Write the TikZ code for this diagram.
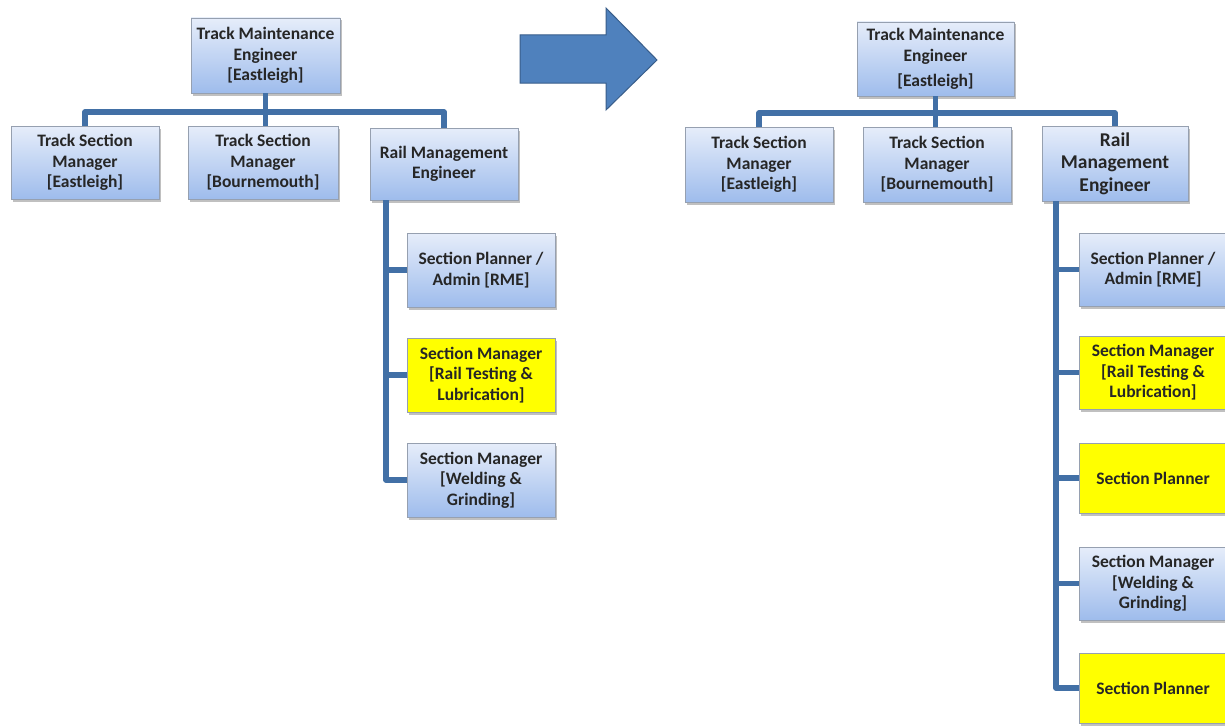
\documentclass[tikz,border=0pt]{standalone}
\usepackage{fontspec}
\setmainfont{Carlito}
\usetikzlibrary{shadows}
\definecolor{conncol}{RGB}{66,112,166}
\definecolor{boxtop}{RGB}{230,237,250}
\definecolor{boxbot}{RGB}{158,188,236}
\definecolor{boxline}{RGB}{150,160,176}
\definecolor{textcol}{RGB}{38,38,38}
\definecolor{arrfill}{RGB}{79,129,189}
\definecolor{arrline}{RGB}{56,93,138}
\definecolor{yelfill}{RGB}{255,255,0}
\tikzset{
  basebox/.style={draw=boxline, line width=0.8pt,
    drop shadow={shadow xshift=2pt, shadow yshift=-2.5pt, opacity=0.35, fill=black!70},
    minimum width=148pt, minimum height=74pt, inner sep=2pt, align=center,
    font=\fontsize{17.5}{20.5}\selectfont\bfseries, text=textcol},
  bluebox/.style={basebox, top color=boxtop, bottom color=boxbot},
  yelbox/.style={basebox, fill=yelfill},
  conn/.style={draw=conncol, line width=5.5pt, line join=round}
}
\begin{document}
\begin{tikzpicture}[x=1pt,y=-1pt]
\useasboundingbox (0,0) rectangle (1225,725);
\fill[white] (0,0) rectangle (1225,725);

% ---------- left chart ----------
\node[bluebox, minimum width=149pt, minimum height=75pt] (ltme) at (265.5,55.5) {Track Maintenance\\Engineer\\ {[Eastleigh]}};
\node[bluebox, minimum height=73pt] (ltse) at (85,162.5) {Track Section\\Manager\\ {[Eastleigh]}};
\node[bluebox, minimum width=150pt, minimum height=73pt] (ltsb) at (263,162.5) {Track Section\\Manager\\ {[Bournemouth]}};
\node[bluebox, minimum height=72pt] (lrme) at (444,164) {Rail Management\\Engineer};
\node[bluebox] (lspa) at (481,270) {Section Planner /\\Admin [RME]};
\node[yelbox] (lsmr) at (481,375) {Section Manager\\ {[Rail Testing \&}\\Lubrication]};
\node[bluebox] (lsmw) at (481,480) {Section Manager\\ {[Welding \&}\\Grinding]};

\coordinate (lbar) at (0,112);
\coordinate (lvx) at (386,0);
\draw[conn] (ltse.north) |- (lbar -| lrme.north) -- (lrme.north);
\draw[conn] (ltme.south) -- (ltme.south |- ltsb.north);
\draw[conn] (lrme.south -| lvx) |- (lsmw.west);
\draw[conn] (lspa.west -| lvx) -- (lspa.west);
\draw[conn] (lsmr.west -| lvx) -- (lsmr.west);

% ---------- arrow ----------
\filldraw[fill=arrfill, draw=arrline, line width=1pt, line join=miter]
  (520,35) -- (606,35) -- (606,8) -- (657,60) -- (606,110) -- (606,83) -- (520,83) -- cycle;

% ---------- right chart ----------
\node[bluebox, minimum width=157pt] (rtme) at (935.5,59) {Track Maintenance\\Engineer\\[5pt] {[Eastleigh]}};
\node[bluebox, minimum height=75pt] (rtse) at (759,164.5) {Track Section\\Manager\\ {[Eastleigh]}};
\node[bluebox, minimum height=75pt] (rtsb) at (937,164.5) {Track Section\\Manager\\ {[Bournemouth]}};
\node[bluebox, minimum width=146pt, minimum height=75pt, font=\fontsize{19.5}{22.5}\selectfont\bfseries] (rrme) at (1115,163.5) {Rail\\Management\\Engineer};
\node[bluebox, minimum height=73pt] (rspa) at (1153,269.5) {Section Planner /\\Admin [RME]};
\node[yelbox, minimum height=73pt] (rsmr) at (1153,372.5) {Section Manager\\ {[Rail Testing \&}\\Lubrication]};
\node[yelbox, minimum height=70pt] (rsp1) at (1153,478) {Section Planner};
\node[bluebox, minimum height=73pt] (rsmw) at (1153,583.5) {Section Manager\\ {[Welding \&}\\Grinding]};
\node[yelbox, minimum height=70pt] (rsp2) at (1153,688) {Section Planner};

\coordinate (rbar) at (0,113);
\coordinate (rvx) at (1056,0);
\draw[conn] (rtse.north) |- (rbar -| rrme.north) -- (rrme.north);
\draw[conn] (rtme.south) -- (rtme.south |- rtsb.north);
\draw[conn] (rrme.south -| rvx) |- (rsp2.west);
\draw[conn] (rspa.west -| rvx) -- (rspa.west);
\draw[conn] (rsmr.west -| rvx) -- (rsmr.west);
\draw[conn] (rsp1.west -| rvx) -- (rsp1.west);
\draw[conn] (rsmw.west -| rvx) -- (rsmw.west);
\end{tikzpicture}
\end{document}
